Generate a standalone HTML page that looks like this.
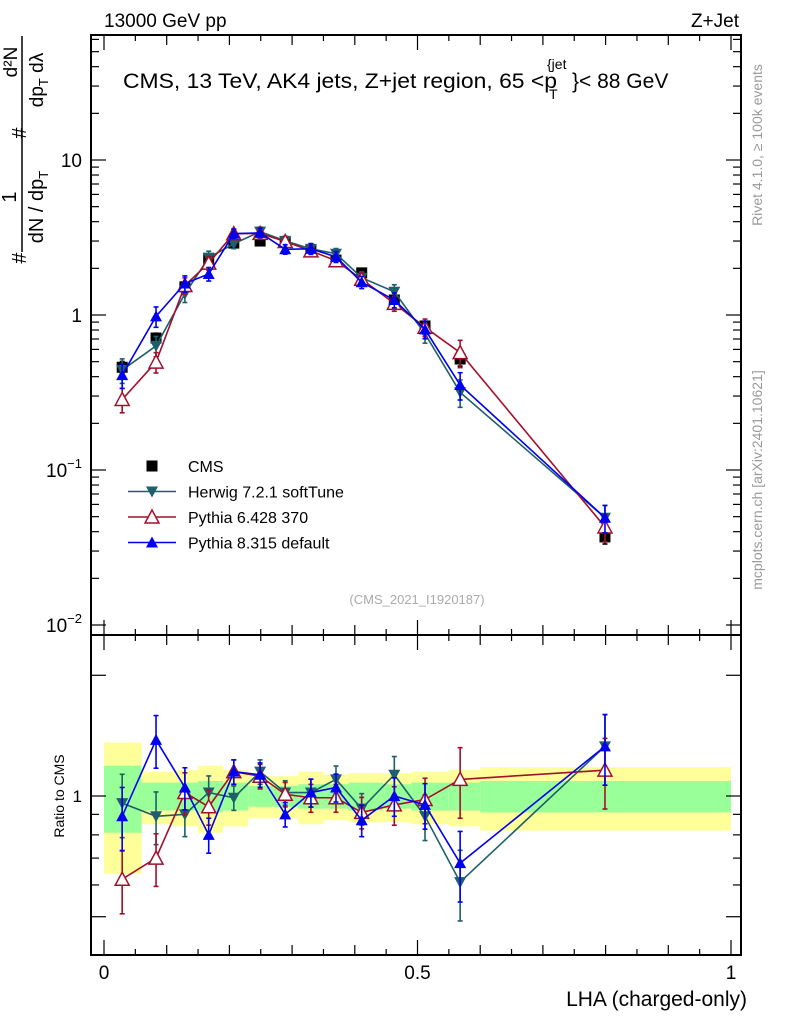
<!DOCTYPE html>
<html><head><meta charset="utf-8"><style>
html,body{margin:0;padding:0;background:#fff;}
svg{display:block;font-family:"Liberation Sans",sans-serif;}
</style></head><body>
<svg id="c" width="786" height="1024" viewBox="0 0 786 1024" xmlns="http://www.w3.org/2000/svg">
<g id="bands"></g>
<g id="axes"></g>
<g id="marks"></g>
<text x="104" y="27" font-size="19">13000 GeV pp</text>
<text x="739" y="27" font-size="19" text-anchor="end">Z+Jet</text>
<g>
<text x="123" y="88" font-size="21" textLength="434" lengthAdjust="spacingAndGlyphs">CMS, 13 TeV, AK4 jets, Z+jet region, 65 &lt;p</text>
<text x="549" y="99" font-size="14">T</text>
<text x="547" y="69" font-size="14">{jet</text>
<text x="572" y="88" font-size="21">}&lt; 88 GeV</text>
</g>
<text x="417" y="604" font-size="13" fill="#aaa" text-anchor="middle">(CMS_2021_I1920187)</text>
<text x="747" y="1006" font-size="21" text-anchor="end">LHA (charged-only)</text>
<text transform="translate(64,796) rotate(-90)" font-size="14" text-anchor="middle">Ratio to CMS</text>
<g font-size="20">
<line x1="22" y1="36" x2="22" y2="252" stroke="#000" stroke-width="1.5"/>
<text transform="translate(26,258) rotate(-90)" text-anchor="middle">#</text>
<text transform="translate(26,133) rotate(-90)" text-anchor="middle">#</text>
<text transform="translate(16,197) rotate(-90)" text-anchor="middle">1</text>
<text transform="translate(43,207) rotate(-90)" text-anchor="middle">dN / dp<tspan font-size="13" dy="5">T</tspan></text>
<text transform="translate(17,62) rotate(-90)" text-anchor="middle" font-size="19">d²N</text>
<text transform="translate(43,80) rotate(-90)" text-anchor="middle" font-size="19">dp<tspan font-size="13" dy="5">T</tspan><tspan dy="-5"> dλ</tspan></text>
</g>
<text transform="translate(762,145) rotate(-90)" font-size="14" fill="#999" text-anchor="middle">Rivet 4.1.0, ≥ 100k events</text>
<text transform="translate(762,480) rotate(-90)" font-size="14" fill="#999" text-anchor="middle">mcplots.cern.ch [arXiv:2401.10621]</text>
<g id="legend"></g>
</svg>
<script>
const xs = [0.029,0.083,0.129,0.167,0.207,0.249,0.289,0.330,0.370,0.411,0.463,0.512,0.568,0.799];
const cms = [0.46,0.71,1.52,2.30,2.91,3.0,2.95,2.62,2.26,1.87,1.25,0.85,0.52,0.037];
const herwigRatio = [0.96,0.89,0.90,1.02,0.99,1.15,1.02,1.02,1.10,0.93,1.13,0.89,0.61,1.33];
const pythia6Ratio = [0.62,0.70,1.02,0.94,1.15,1.12,1.01,0.99,0.99,0.91,0.95,0.98,1.10,1.16];
const pythia8Ratio = [0.89,1.38,1.05,0.80,1.15,1.13,0.90,1.02,1.05,0.87,1.00,0.95,0.68,1.33];
const relErr = [0.18,0.15,0.12,0.10,0.07,0.07,0.07,0.08,0.08,0.09,0.11,0.13,0.20,0.20];
const binEdges = [0,0.06,0.11,0.15,0.19,0.23,0.27,0.31,0.35,0.39,0.445,0.49,0.55,0.60,1.0];
const bandGreen = [0.19,0.08,0.08,0.09,0.08,0.06,0.06,0.07,0.07,0.08,0.07,0.08,0.08,0.09];
const bandYellow = [0.36,0.15,0.16,0.19,0.16,0.12,0.12,0.15,0.13,0.14,0.14,0.15,0.16,0.18];
const mainTicks = [0.01,0.1,1,10];
const mainTickLabels = ["10","10","1","10"];
const mainTickExp = ["−2","−1","",""];
const xTickLabels = ["0","0.5","1"];

const NS="http://www.w3.org/2000/svg";
const X = v => 104 + 627*v;
const YM = v => 315 - 155*Math.log10(v);
const YR = r => 796 - 401*Math.log10(r);
const L=91,R=741,T=35,MB=635,RB=955;
function mk(tag, attrs, parent){const e=document.createElementNS(NS,tag);for(const k in attrs)e.setAttribute(k,attrs[k]);parent.appendChild(e);return e;}
const axes=document.getElementById('axes'), marks=document.getElementById('marks'), bands=document.getElementById('bands'), legend=document.getElementById('legend');

for(let i=0;i<binEdges.length-1;i++){
  const x0=X(binEdges[i]), x1=X(binEdges[i+1]);
  const y=mk('rect',{x:x0,y:YR(1+bandYellow[i]),width:x1-x0,height:YR(1-bandYellow[i])-YR(1+bandYellow[i]),fill:'#ffff99'},bands);
  
  
  const g=mk('rect',{x:x0,y:YR(1+bandGreen[i]),width:x1-x0,height:YR(1-bandGreen[i])-YR(1+bandGreen[i]),fill:'#99ff99'},bands);
  
  
}
mk('rect',{x:L,y:T,width:R-L,height:MB-T,fill:'none',stroke:'#000','stroke-width':2},axes);
mk('rect',{x:L,y:MB,width:R-L,height:RB-MB,fill:'none',stroke:'#000','stroke-width':2},axes);
for(let d=-2;d<=1;d++){for(let m=1;m<=9;m++){const v=m*Math.pow(10,d);const y=YM(v);if(y<T||y>MB)continue;const len=m===1?15:8;
 mk('line',{x1:L,y1:y,x2:L+len,y2:y,stroke:'#000','stroke-width':1.2},axes);mk('line',{x1:R,y1:y,x2:R-len,y2:y,stroke:'#000','stroke-width':1.2},axes);}}
mainTicks.forEach((v,i)=>{const t=mk('text',{x:82,y:YM(v)+7,'font-size':19,'text-anchor':'end'},axes);t.textContent=mainTickLabels[i];
 if(mainTickExp[i]){const s=mk('tspan',{'font-size':13,dy:-9},t);s.textContent=mainTickExp[i];}
 
 });
[0.4,0.5,0.6,0.7,0.8,0.9,1,2].forEach(r=>{const y=YR(r);if(y<MB||y>RB)return;const len=(r===1||r===2||r===0.5)?15:8;
 mk('line',{x1:L,y1:y,x2:L+len,y2:y,stroke:'#000','stroke-width':1.2},axes);mk('line',{x1:R,y1:y,x2:R-len,y2:y,stroke:'#000','stroke-width':1.2},axes);});
const rl=mk('text',{x:82,y:YR(1)+6,'font-size':17,'text-anchor':'end'},axes);rl.textContent='1';


for(let k=0;k<=20;k++){const v=k*0.05,x=X(v);const len=k%10===0?15:(k%2===0?10:6);
 [[MB,-1],[RB,-1],[T,1],[MB,1]].forEach(([y0,s])=>mk('line',{x1:x,y1:y0,x2:x,y2:y0+s*len,stroke:'#000','stroke-width':1.2},axes));}
xTickLabels.forEach((l,i)=>{const t=mk('text',{x:X(i*0.5),y:979,'font-size':19,'text-anchor':'middle'},axes);t.textContent=l;
 
 });

function marker(type,x,y,col,p){
 if(type==='sq') return mk('rect',{x:x-5.5,y:y-5.5,width:11,height:11,fill:col},p);
 if(type==='down') return mk('polygon',{points:`${x-6},${y-5} ${x+6},${y-5} ${x},${y+6}`,fill:col},p);
 if(type==='upo') return mk('polygon',{points:`${x-7},${y+6} ${x+7},${y+6} ${x},${y-7}`,fill:'#fff',stroke:col,'stroke-width':1.5},p);
 return mk('polygon',{points:`${x-6},${y+5} ${x+6},${y+5} ${x},${y-6}`,fill:col},p);
}
function series(name,ratios,col,type,line){
 const g=mk('g',{},marks);
 
 
 ['main','ratio'].forEach(panel=>{
  const pts=xs.map((x,i)=>{const v=ratios?ratios[i]:1;return panel==='main'?[X(x),YM(cms[i]*v),cms[i]*v]:[X(x),YR(v),v];});
  if(line) mk('polyline',{points:pts.map(p=>p[0]+','+p[1]).join(' '),fill:'none',stroke:col,'stroke-width':1.6},g);
  pts.forEach((p,i)=>{
   if(panel==='ratio'&&!ratios) return;
   const v=p[2],e=relErr[i]*(ratios?1:0.5);
   const F=panel==='main'?YM:YR;
   const y1=F(v*(1+e)),y2=F(Math.max(v*(1-e),1e-4));
   mk('line',{x1:p[0],y1:y1,x2:p[0],y2:y2,stroke:col,'stroke-width':1.6},g);
   mk('line',{x1:p[0]-2.5,y1:y1,x2:p[0]+2.5,y2:y1,stroke:col,'stroke-width':1.6},g);
   mk('line',{x1:p[0]-2.5,y1:y2,x2:p[0]+2.5,y2:y2,stroke:col,'stroke-width':1.6},g);
   const m=marker(type,p[0],p[1],col,g);
   
   
  });
 });
}
series('cms',null,'#000','sq',false);
series('herwig',herwigRatio,'#1d5f6b','down',true);
series('pythia6',pythia6Ratio,'#a3102c','upo',true);
series('pythia8',pythia8Ratio,'#0000f0','up',true);

const leg=[['CMS','#000','sq',false],['Herwig 7.2.1 softTune','#1d5f6b','down',true],['Pythia 6.428 370','#a3102c','upo',true],['Pythia 8.315 default','#0000f0','up',true]];
leg.forEach((l,i)=>{const y=466+25.5*i;const g=mk('g',{},legend);
 
 
 if(l[3]) mk('line',{x1:128,y1:y,x2:176,y2:y,stroke:l[1],'stroke-width':1.6},g);
 marker(l[2],152,y,l[1],g);
 const t=mk('text',{x:188,y:y+6,'font-size':16},g);t.textContent=l[0];});
</script>
</body></html>
